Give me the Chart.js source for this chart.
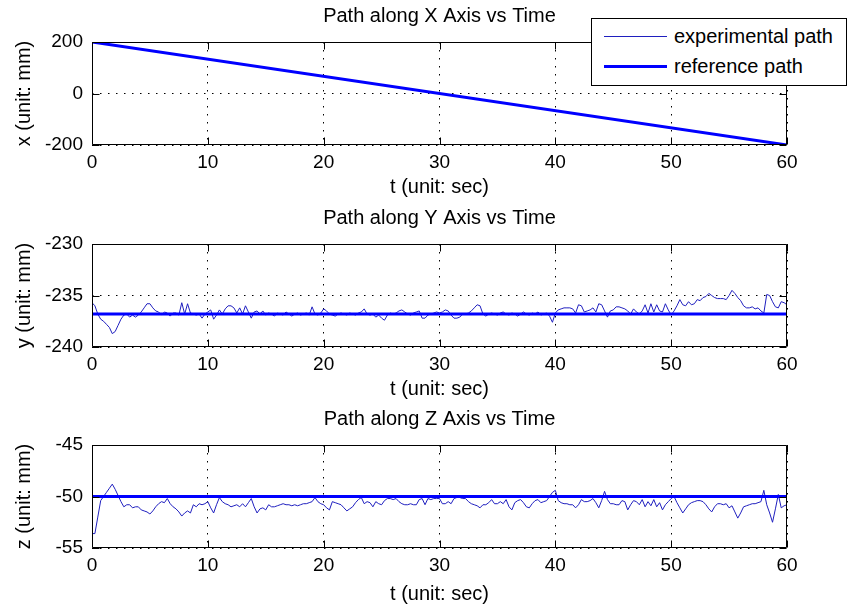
<!DOCTYPE html>
<html lang="en">
<head>
<meta charset="UTF-8">
<title>Path along X / Y / Z Axis vs Time</title>
<style>
  body { margin: 0; background: #fff; width: 848px; height: 609px; overflow: hidden; position: relative; font-family: 'Liberation Sans', Arial, sans-serif; }
  .panel { position: absolute; left: 0; }
  /* legend sits over the top-right corner of the first plot */
  .legend { position: absolute; left: 591px; top: 18px; width: 254px; height: 66px; border: 1px solid #000; background: #fff; z-index: 5; }
  .legend .swatch { position: absolute; left: 12px; width: 63px; }
  .legend .txt { position: absolute; left: 82px; font-size: 20px; line-height: 24px; white-space: nowrap; color: #000; }
</style>
</head>
<body>
  <canvas id="chartX" class="panel" width="848" height="202" style="top:0"></canvas>
  <canvas id="chartY" class="panel" width="848" height="202" style="top:202px"></canvas>
  <canvas id="chartZ" class="panel" width="848" height="206" style="top:403px"></canvas>
  <div id="legend" class="legend"></div>

  <script src="https://cdn.jsdelivr.net/npm/chart.js"></script>
  <script>
    // ---- data ----
    const seriesNames = ['experimental path', 'reference path'];

    // x path, sampled every 5 s
    const timeX = [0, 5, 10, 15, 20, 25, 30, 35, 40, 45, 50, 55, 60];
    const xExperimental = [200, 166.7, 133.3, 100, 66.7, 33.3, 0, -33.3, -66.7, -100, -133.3, -166.7, -200];

    // reference paths (start / end of run)
    const refTimes = [0, 60];
    const xReference = [200, -200];
    const yReference = [-236.8, -236.8];
    const zReference = [-50, -50];

    // y and z experimental paths, one sample every 0.25 s (rows = 5 s)
    const sampleStep = 0.25;
    const yExperimental = [
      -235.7,-236.0,-236.8,-237.3,-237.5,-237.8,-238.1,-238.7,-238.5,-237.9,-237.3,-236.9,-236.8,-237.1,-236.9,-237.1,-236.9,-236.6,-236.2,-235.8,
      -235.8,-236.2,-236.5,-236.6,-236.9,-236.6,-236.7,-237.0,-236.7,-236.7,-236.9,-235.7,-236.8,-235.8,-236.7,-236.8,-236.9,-236.8,-237.2,-236.8,
      -236.6,-236.4,-237.3,-236.9,-236.4,-236.8,-236.3,-236.0,-236.0,-236.2,-236.7,-236.2,-236.8,-236.0,-236.6,-237.2,-236.6,-236.5,-236.8,-236.5,
      -236.9,-236.7,-236.8,-237.0,-236.7,-236.8,-236.9,-236.6,-236.8,-237.0,-236.8,-236.7,-236.9,-236.8,-236.7,-236.9,-236.1,-236.8,-236.9,-236.7,
      -236.3,-236.5,-236.8,-236.9,-237.0,-236.8,-236.7,-236.8,-236.9,-236.7,-236.8,-236.9,-236.7,-236.6,-236.3,-236.8,-236.9,-236.8,-237.1,-236.9,
      -237.2,-237.4,-236.9,-236.7,-236.8,-236.7,-236.5,-236.4,-236.6,-236.8,-236.9,-236.7,-236.6,-236.5,-237.2,-237.2,-236.9,-236.8,-236.7,-236.6,
      -236.7,-236.6,-236.4,-236.5,-236.9,-237.2,-237.2,-237.1,-236.8,-236.8,-236.7,-236.5,-236.2,-235.9,-236.0,-236.8,-237.0,-236.8,-236.7,-236.8,
      -236.9,-236.7,-236.6,-236.8,-236.9,-236.7,-236.8,-237.0,-236.8,-236.6,-236.8,-236.9,-236.7,-236.8,-236.6,-236.9,-236.8,-236.7,-237.0,-237.6,
      -236.7,-236.4,-236.3,-236.2,-236.2,-236.2,-236.3,-236.7,-235.9,-236.0,-236.6,-236.5,-236.4,-236.2,-236.6,-235.8,-235.9,-236.5,-237.1,-236.5,
      -236.4,-236.1,-236.1,-236.2,-236.3,-236.5,-236.8,-236.3,-236.6,-236.8,-236.5,-235.9,-236.7,-235.8,-236.6,-235.9,-236.5,-236.6,-235.8,-236.4,
      -236.9,-236.5,-236.0,-235.4,-235.9,-236.0,-235.6,-235.9,-235.8,-235.4,-235.5,-235.2,-235.1,-234.8,-235.0,-235.2,-235.3,-235.3,-235.3,-235.4,
      -235.0,-234.5,-234.8,-235.2,-235.5,-236.0,-236.2,-236.2,-236.1,-236.3,-236.2,-236.5,-236.7,-234.9,-235.0,-235.6,-236.1,-236.2,-235.6,-235.7,
      -235.9
    ];
    const zExperimental = [
      -53.6,-53.6,-52.0,-50.4,-50.0,-49.6,-49.2,-48.8,-49.3,-49.9,-50.5,-51.0,-50.8,-50.8,-51.1,-51.0,-51.0,-51.3,-51.4,-51.5,
      -51.7,-51.4,-51.0,-50.7,-50.5,-50.6,-50.2,-50.7,-51.0,-51.2,-51.5,-51.9,-51.6,-51.4,-51.6,-50.8,-51.0,-50.7,-50.8,-50.7,
      -50.5,-51.1,-51.6,-50.8,-50.1,-50.5,-50.7,-50.8,-51.0,-50.9,-50.8,-51.0,-50.7,-51.0,-50.6,-50.2,-51.0,-51.6,-51.2,-51.1,
      -51.3,-50.8,-51.0,-51.0,-50.9,-50.8,-50.7,-50.8,-50.8,-50.9,-50.8,-50.9,-50.8,-50.7,-50.7,-50.6,-50.5,-50.1,-50.5,-50.7,
      -50.8,-51.1,-51.3,-50.5,-50.6,-50.7,-50.8,-51.1,-51.4,-51.2,-51.0,-50.6,-50.3,-50.1,-50.7,-50.5,-50.6,-51.0,-50.5,-50.7,
      -50.8,-50.4,-50.2,-50.2,-50.3,-50.2,-50.5,-50.7,-50.8,-50.8,-50.7,-50.8,-50.8,-50.3,-50.2,-50.8,-50.2,-50.3,-50.2,-50.2,
      -50.2,-50.7,-50.7,-50.5,-50.7,-50.2,-50.1,-50.1,-50.2,-50.2,-50.5,-50.7,-50.8,-50.9,-51.1,-50.8,-50.8,-50.6,-50.3,-50.7,
      -50.7,-50.5,-50.7,-50.3,-51.0,-51.3,-50.6,-50.4,-50.3,-50.6,-51.0,-51.1,-50.7,-50.4,-50.3,-50.6,-50.5,-50.4,-50.0,-49.6,
      -49.4,-50.4,-50.6,-50.7,-50.7,-50.8,-50.8,-51.1,-50.8,-50.3,-50.5,-50.5,-50.4,-50.2,-50.6,-51.1,-50.4,-49.5,-50.3,-50.7,
      -50.7,-50.8,-50.8,-50.4,-50.5,-51.3,-50.8,-50.4,-50.5,-50.8,-50.3,-51.0,-50.5,-50.9,-50.3,-51.0,-50.6,-51.3,-50.8,-50.5,
      -50.2,-50.0,-50.6,-51.1,-51.6,-51.2,-50.8,-50.6,-50.5,-50.4,-50.4,-50.5,-50.8,-51.2,-51.5,-51.0,-50.7,-50.7,-50.8,-50.7,
      -51.1,-50.9,-51.5,-52.1,-51.6,-51.0,-50.9,-50.8,-50.7,-50.7,-50.6,-50.5,-49.4,-50.8,-51.6,-52.5,-51.2,-49.8,-51.1,-50.9,
      -50.8
    ];

    // ---- styling ----
    const FONT = "'Liberation Sans', Arial, sans-serif";
    const expColor = '#1f1fbf';
    const refColor = '#0000ff';
    Chart.defaults.color = '#000';
    Chart.defaults.font.family = FONT;

    const pts = (ts, vs) => vs.map((v, i) => ({ x: ts[i], y: v }));
    const sampleTimes = yExperimental.map((_, i) => i * sampleStep);

    // MATLAB style box with inward tick marks on all four sides
    const matlabBox = {
      id: 'matlabBox',
      afterDatasetsDraw(chart) {
        const { ctx, chartArea: a, scales: { x, y } } = chart;
        const L = Math.round(a.left) + 0.5, R = Math.round(a.right) - 0.5;
        const T = Math.round(a.top) + 0.5, B = Math.round(a.bottom) - 0.5;
        ctx.save();
        ctx.strokeStyle = '#000';
        ctx.lineWidth = 1;
        ctx.beginPath();
        x.ticks.forEach(t => {
          const px = Math.round(x.getPixelForValue(t.value)) + 0.5;
          ctx.moveTo(px, B); ctx.lineTo(px, B - 7);
          ctx.moveTo(px, T); ctx.lineTo(px, T + 7);
        });
        y.ticks.forEach(t => {
          const py = Math.round(y.getPixelForValue(t.value)) + 0.5;
          ctx.moveTo(L, py); ctx.lineTo(L + 7, py);
          ctx.moveTo(R, py); ctx.lineTo(R - 7, py);
        });
        ctx.moveTo(L, T); ctx.lineTo(R, T); ctx.lineTo(R, B); ctx.lineTo(L, B); ctx.closePath();
        ctx.stroke();
        ctx.restore();
      }
    };

    function makePanel(id, title, yLabel, yMin, yMax, yStep, expData, refData, xHeight) {
      return new Chart(document.getElementById(id), {
        type: 'line',
        data: {
          datasets: [
            { label: seriesNames[0], data: expData, borderColor: expColor, borderWidth: 1, pointRadius: 0, tension: 0, order: 1 },
            { label: seriesNames[1], data: refData, borderColor: refColor, borderWidth: 3, pointRadius: 0, tension: 0, order: 0 }
          ]
        },
        options: {
          responsive: false,
          animation: false,
          devicePixelRatio: 1,
          layout: { padding: { left: 0, right: 61, top: 0, bottom: 0 } },
          plugins: {
            legend: { display: false },
            tooltip: { enabled: false },
            title: { display: true, text: title, fullSize: false, font: { size: 20, weight: 'normal', family: FONT }, padding: { top: 4, bottom: 14 }, color: '#000' }
          },
          scales: {
            x: {
              type: 'linear', min: 0, max: 60,
              ticks: { stepSize: 10, padding: 6, font: { size: 19 }, color: '#000' },
              grid: { color: '#000', lineWidth: 1, drawTicks: false },
              border: { display: false, dash: [1.5, 6.5] },
              title: { display: true, text: 't (unit: sec)', font: { size: 20 }, padding: { top: 0, bottom: 3 }, color: '#000' },
              afterFit: s => { s.height = xHeight; }
            },
            y: {
              min: yMin, max: yMax,
              ticks: { stepSize: yStep, padding: 9, font: { size: 19 }, color: '#000' },
              grid: { color: '#000', lineWidth: 1, drawTicks: false },
              border: { display: false, dash: [1.5, 6.5] },
              title: { display: true, text: yLabel, font: { size: 20 }, padding: { top: 12, bottom: 0 }, color: '#000' },
              afterFit: s => { s.width = 92; }
            }
          }
        },
        plugins: [matlabBox]
      });
    }

    const chartX = makePanel('chartX', 'Path along X Axis vs Time', 'x (unit: mm)', -200, 200, 200,
      pts(timeX, xExperimental), pts(refTimes, xReference), 57);
    makePanel('chartY', 'Path along Y Axis vs Time', 'y (unit: mm)', -240, -230, 5,
      pts(sampleTimes, yExperimental), pts(refTimes, yReference), 57);
    makePanel('chartZ', 'Path along Z Axis vs Time', 'z (unit: mm)', -55, -45, 5,
      pts(sampleTimes, zExperimental), pts(refTimes, zReference), 61);

    // legend box built from the first chart's datasets
    const legend = document.getElementById('legend');
    chartX.data.datasets.forEach((ds, i) => {
      const cy = 17 + i * 30;
      const sw = document.createElement('div');
      sw.className = 'swatch';
      sw.style.top = (cy - ds.borderWidth / 2) + 'px';
      sw.style.height = ds.borderWidth + 'px';
      sw.style.background = ds.borderColor;
      const tx = document.createElement('div');
      tx.className = 'txt';
      tx.style.top = (cy - 12) + 'px';
      tx.textContent = ds.label;
      legend.appendChild(sw);
      legend.appendChild(tx);
    });
  </script>
</body>
</html>
